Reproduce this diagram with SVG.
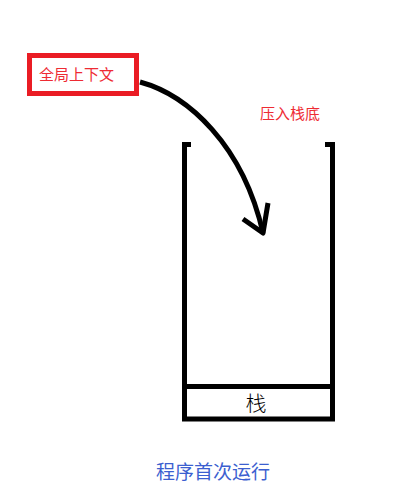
<svg xmlns="http://www.w3.org/2000/svg" width="409" height="492" viewBox="0 0 409 492">
<style>
.blk{fill:none;stroke:#000;stroke-width:5;stroke-linecap:butt}
.red{fill:#ee2b33;font-family:"Noto Sans CJK SC","Liberation Sans",sans-serif;font-size:15px}
</style>
<rect width="409" height="492" fill="#fff"/>
<g id="global-context">
<rect x="29.5" y="55.5" width="107" height="38" fill="#fff" stroke="#ea1c24" stroke-width="5"/>
<text class="red" x="39" y="80">全局上下文</text>
</g>
<g id="push-label">
<text class="red" x="260" y="119">压入栈底</text>
</g>
<g id="stack">
<path class="blk" d="M191,144.5 H184.5 V419 H332.5 V144.5 H325"/>
<path class="blk" d="M184.5,386.5 H332.5"/>
<text x="256" y="411" text-anchor="middle" font-family="Noto Sans CJK SC,Liberation Sans,sans-serif" font-size="21" font-weight="300" fill="#000">栈</text>
</g>
<g id="connectors">
<path class="blk" stroke-linecap="round" d="M140,82 C188,95 243,145 263,233"/>
<path class="blk" stroke-linecap="round" stroke-linejoin="round" d="M243,219 L263,233 L268,203"/>
</g>
<g id="caption">
<text x="213" y="479" text-anchor="middle" font-family="Noto Sans CJK SC,Liberation Sans,sans-serif" font-size="19" fill="#3c5fd0">程序首次运行</text>
</g>
</svg>
